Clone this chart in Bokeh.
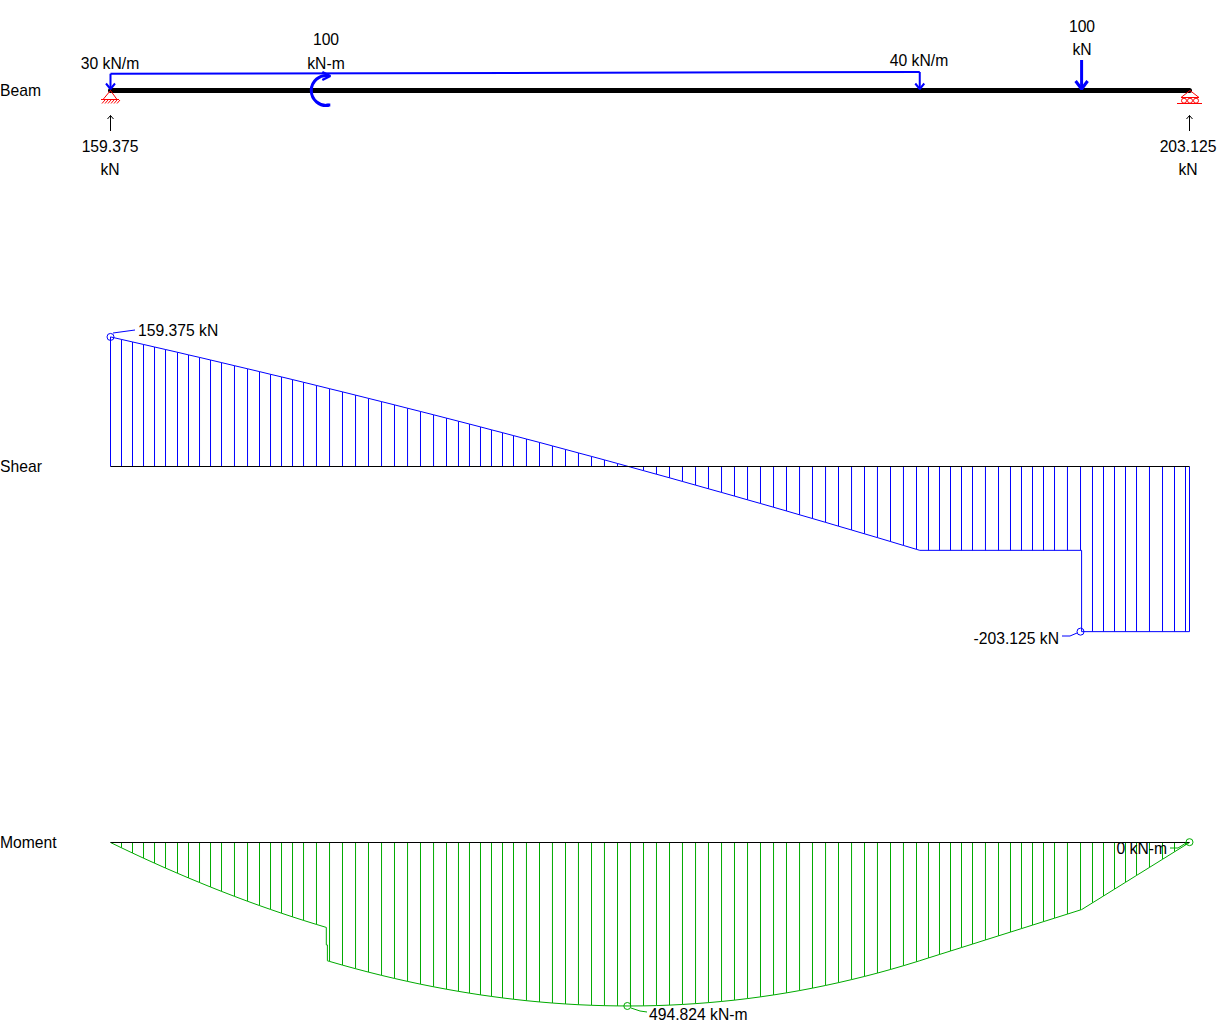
from bokeh.plotting import figure
from bokeh.models import Range1d, ColumnDataSource
from bokeh.core.properties import value
from bokeh.embed import file_html
from bokeh.resources import INLINE

# ---- data ----
stations = [0,0.102,0.204,0.306,0.408,0.510,0.621,0.723,0.825,0.927,1.029,1.149,1.270,1.381,1.483,1.585,1.687,1.789,1.909,
            2.030,2.150,2.271,2.391,2.512,2.632,2.753,2.873,2.994,3.114,3.225,3.327,3.429,3.531,3.633,3.735,3.855,3.976,
            4.096,4.217,4.337,4.458,4.578,4.699,4.819,4.940,5.060,5.181,5.301,5.422,5.542,5.663,5.783,5.904,6.024,6.145,
            6.265,6.386,6.506,6.627,6.747,6.868,6.988,7.108,7.229,7.349,7.470,7.581,7.683,7.785,7.887,7.989,8.109,8.230,
            8.341,8.443,8.545,8.647,8.749,8.869,8.990,9.101,9.203,9.305,9.407,9.509,9.629,9.750,9.861,9.963,10.0]
shear = [159.4,156.3,153.2,150.1,147.0,143.9,140.5,137.3,134.2,131.0,127.8,124.0,120.2,116.7,113.4,110.2,106.9,103.6,99.7,
         95.7,91.8,87.8,83.8,79.8,75.8,71.7,67.7,63.6,59.5,55.7,52.2,48.7,45.1,41.6,38.0,33.8,29.6,
         25.3,21.0,16.7,12.4,8.1,3.7,-0.7,-5.1,-9.5,-13.9,-18.4,-22.9,-27.4,-31.9,-36.4,-41.0,-45.5,-50.1,
         -54.7,-59.4,-64.0,-68.7,-73.4,-78.1,-82.8,-87.5,-92.3,-97.1,-101.9,-103.1,-103.1,-103.1,-103.1,-103.1,-103.1,-103.1,
         -103.1,-103.1,-103.1,-103.1,-103.1,-103.1,-103.1,-203.1,-203.1,-203.1,-203.1,-203.1,-203.1,-203.1,-203.1,-203.1,-203.1]
moment = [0,16.1,31.9,47.4,62.5,77.4,93.1,107.3,121.1,134.7,147.9,163.0,177.8,190.9,202.6,214.0,225.1,235.8,248.0,
          359.9,371.1,382.0,392.3,402.2,411.5,420.4,428.8,436.7,444.1,450.5,456.0,461.2,465.9,470.4,474.4,478.8,482.6,
          485.9,488.7,491.0,492.7,493.9,494.6,494.8,494.5,493.6,492.2,490.2,487.7,484.7,481.1,477.1,472.4,467.2,461.4,
          455.1,448.2,440.8,432.7,424.2,415.0,405.4,395.2,384.3,372.9,360.9,349.4,338.9,328.4,317.9,307.4,295.0,282.5,
          271.1,260.6,250.0,239.5,229.0,216.6,204.1,182.6,161.9,141.2,120.5,99.7,75.4,50.8,28.2,7.5,0]
# break points of the outlines
shear_break_x = [7.5, 9.0, 9.0, 10.0]
shear_break_v = [-103.125, -103.125, -203.125, -203.125]
moment_step_x = [2.0, 2.0, 2.01, 2.01]
moment_step_m = [257.0, 310.0, 310.0, 358.0]
moment_knee_x = [7.5]
moment_knee_m = [357.8]
moment_knee2_x = [9.0]
moment_knee2_m = [203.1]
shear_marks_x, shear_marks_v = [0.0, 8.99], [159.375, -203.125]
moment_marks_x, moment_marks_m = [4.79, 10.0], [494.824, -1.0]

beam_x = [0.0, 10.0]
udl_x = [0.0, 7.5]
couple_x = 2.0
point_x = 9.0
react_x = [0.0, 10.0]

# label tables (text, image px position)
labels = ["Beam","Shear","Moment"]
labels_x, labels_y = [0,0,0], [90,466,842]
centred = ["30 kN/m","100","kN-m","40 kN/m","100","kN","159.375","kN","203.125","kN"]
centred_x = [110,326,326,919,1082,1082,110,110,1188,1188]
centred_y = [63,39,63,60,25.5,49.5,146,169,146,169]
values_left = ["159.375 kN","494.824 kN-m"]
values_left_x, values_left_y = [138,649],[330,1014]
values_right = ["-203.125 kN","0 kN-m"]
values_right_x, values_right_y = [1059,1167],[638,848]

# ---- scales ----
W, H = 1221, 1027
PX_PER_M, X0 = 107.9, 110.0
V0, V_K = 466.0, 0.813
M0, M_K = 842.0, 0.3304
BLUE, GREEN, RED = "#0000FF", "#00AA00", "#FF0000"

p = figure(width=W, height=H, output_backend="svg", toolbar_location=None,
           x_range=Range1d(0.5, W+0.5), y_range=Range1d(H+0.5, 0.5),
           x_axis_location=None, y_axis_location=None,
           min_border=0, outline_line_color=None, background_fill_color="white")
p.grid.visible = False
p.styles = {"position": "absolute", "left": "0px", "top": "0px"}
p.extra_x_ranges["m"] = Range1d(-X0/PX_PER_M, (W-X0)/PX_PER_M)
p.extra_y_ranges["V"] = Range1d((V0-H)/V_K, V0/V_K)
p.extra_y_ranges["M"] = Range1d((H-M0)/M_K, -M0/M_K)

# ---- shear diagram ----
p.segment(x0=stations, y0=[0]*len(stations), x1=stations, y1=shear, x_range_name="m", y_range_name="V",
          line_color=BLUE, line_width=1)
n_v = stations.index(7.470) + 1
p.line(stations[:n_v]+shear_break_x, shear[:n_v]+shear_break_v, x_range_name="m", y_range_name="V",
       line_color=BLUE, line_width=1)
p.line(beam_x, [0,0], x_range_name="m", y_range_name="V", line_color="black", line_width=1)
p.scatter(shear_marks_x, shear_marks_v, x_range_name="m", y_range_name="V", marker="circle", size=7,
          fill_color=None, line_color=BLUE, line_width=1)
p.multi_line([[113,135],[1062,1070,1077]], [[333,330],[636,636,633]], line_color=BLUE, line_width=1)

# ---- moment diagram ----
p.segment(x0=stations, y0=[0]*len(stations), x1=stations, y1=moment, x_range_name="m", y_range_name="M",
          line_color=GREEN, line_width=1)
i2 = stations.index(2.030)
i75 = stations.index(7.581)
i9 = stations.index(9.101)
mx = stations[:i2]+moment_step_x+stations[i2:i75]+moment_knee_x+stations[i75:i9]+moment_knee2_x+stations[i9:]
my = moment[:i2]+moment_step_m+moment[i2:i75]+moment_knee_m+moment[i75:i9]+moment_knee2_m+moment[i9:]
p.line(mx, my, x_range_name="m", y_range_name="M", line_color=GREEN, line_width=1)
p.line(beam_x, [0,0], x_range_name="m", y_range_name="M", line_color="black", line_width=1)
p.scatter(moment_marks_x, moment_marks_m, x_range_name="m", y_range_name="M", marker="circle", size=7,
          fill_color=None, line_color=GREEN, line_width=1)
p.multi_line([[631,640,647],[1170,1178,1186]], [[1008,1011,1012],[848,848,843]], line_color=GREEN, line_width=1)

# ---- beam ----
p.line(beam_x, [90.5,90.5], x_range_name="m", line_color="black", line_width=5, line_cap="round")

# supports
p.multi_line([[103,110.5,117],[101,119]], [[99.5,90.5,99.5],[99.5,99.5]], line_color=RED, line_width=1)
p.segment(x0=[102,105,108,111,114,117], y0=[103.5]*6, x1=[105,108,111,114,117,120], y1=[100]*6, line_color=RED, line_width=1)
p.multi_line([[1181,1190,1199],[1181,1199],[1177,1202]], [[97.5,90.5,97.5],[97.5,97.5],[103.5,103.5]], line_color=RED, line_width=1)
p.scatter([1184,1190,1196],[100.7]*3, marker="circle", size=5, fill_color=None, line_color=RED, line_width=1)

# distributed load
p.line(udl_x, [73.8,72.0], x_range_name="m", line_color=BLUE, line_width=2)
for lx, ly, lw, hx, hy, top in [(udl_x[0],74,2,4.5,5.5,73.8),(udl_x[1],72,2,4.5,5.5,72.0),(point_x,60,3,6,8,60)]:
    p.line([lx,lx],[top,89], x_range_name="m", line_color=BLUE, line_width=lw)
    p.line([lx-hx/PX_PER_M,lx,lx+hx/PX_PER_M],[89-hy,89,89-hy], x_range_name="m", line_color=BLUE, line_width=lw)

# couple
p.arc(x=[couple_x],y=[90.5],radius=15,radius_units="screen",start_angle=80,end_angle=280,
      start_angle_units="deg",end_angle_units="deg",
      direction="anticlock",x_range_name="m",line_color=BLUE,line_width=3)
p.line([couple_x+0.0,couple_x+4/PX_PER_M],[105,105],x_range_name="m",line_color=BLUE,line_width=3)
p.line([couple_x-4/PX_PER_M,couple_x+4/PX_PER_M,couple_x-4/PX_PER_M],[72,76,80],x_range_name="m",line_color=BLUE,line_width=2.5)

# reactions
for rx in react_x:
    p.line([rx,rx],[131,115.5], x_range_name="m", line_color="black", line_width=1)
    p.line([rx-3/PX_PER_M,rx,rx+3/PX_PER_M],[119,115.5,119], x_range_name="m", line_color="black", line_width=1)

# ---- texts ----
FONT = value("Liberation Sans")
SIZE = "15.7px"
def put(tx, ty, tt, align):
    src = ColumnDataSource(dict(x=tx, y=ty, text=tt))
    p.text(x="x", y="y", text="text", source=src, text_font=FONT, text_font_size=SIZE,
           text_align=align, text_baseline="middle", text_color="black")
put(labels_x, labels_y, labels, "left")
put(centred_x, centred_y, centred, "center")
put(values_left_x, values_left_y, values_left, "left")
put(values_right_x, values_right_y, values_right, "right")

open("out.html", "w").write(file_html(p, INLINE))
